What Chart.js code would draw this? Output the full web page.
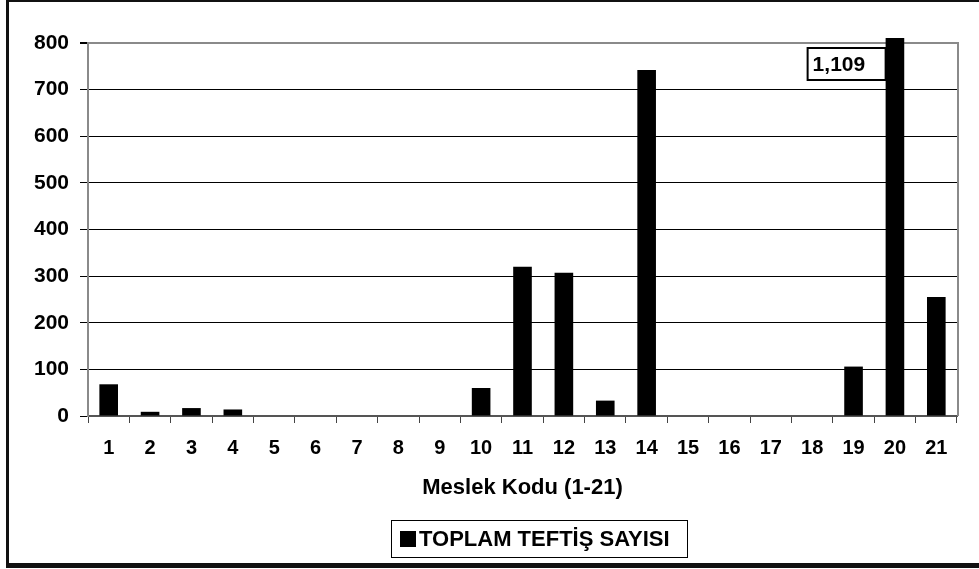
<!DOCTYPE html>
<html lang="tr">
<head>
<meta charset="UTF-8">
<title>Meslek Kodu - Toplam Teftiş Sayısı</title>
<script src="https://cdn.jsdelivr.net/npm/chart.js"></script>
<style>
  body { margin: 0; background: #fff; }
  #wrap { width: 979px; height: 569px; position: relative; }
</style>
</head>
<body>
<div id="wrap"><canvas id="chart"></canvas></div>
<script>
// data
const categories = ['1','2','3','4','5','6','7','8','9','10','11','12','13','14','15','16','17','18','19','20','21'];
const inspections = [68, 9, 17, 14, 0, 0, 0, 0, 0, 60, 320, 307, 33, 742, 0, 0, 0, 0, 106, 1109, 255];
const yTicks = [0, 100, 200, 300, 400, 500, 600, 700, 800];
const seriesName = 'TOPLAM TEFTİŞ SAYISI';
const axisTitle = 'Meslek Kodu (1-21)';
const yMax = 800;

const FONT = 'Liberation Sans, Arial, sans-serif';

// frame, plot border, the boxed label over the clipped bar, and the boxed legend
const extras = {
  id: 'extras',
  afterDatasetsDraw(chart) {
    const ctx = chart.ctx;
    const a = chart.chartArea;
    ctx.save();
    // right border of plot
    ctx.strokeStyle = '#8a8a8a';
    ctx.lineWidth = 2;
    ctx.beginPath();
    ctx.moveTo(a.right + 1, a.top - 1);
    ctx.lineTo(a.right + 1, a.bottom);
    ctx.stroke();

    // value label for bars above the axis max
    const meta = chart.getDatasetMeta(0);
    inspections.forEach((v, i) => {
      if (v <= yMax) return;
      const bar = meta.data[i];
      const txt = v.toLocaleString('en-US');
      ctx.font = 'bold 21px ' + FONT;
      const w = 78, h = 32;
      const x1 = bar.x - bar.width / 2;
      const y0 = a.top + 5;
      ctx.fillStyle = '#fff';
      ctx.fillRect(x1 - w, y0, w, h);
      ctx.strokeStyle = '#000';
      ctx.lineWidth = 2;
      ctx.strokeRect(x1 - w, y0, w, h);
      ctx.fillStyle = '#000';
      ctx.textBaseline = 'middle';
      ctx.textAlign = 'left';
      ctx.fillText(txt, x1 - w + 5, y0 + h / 2 + 1);
    });

    // legend box
    const lx = 391, ly = 520, lw = 296, lh = 37;
    ctx.strokeStyle = '#000';
    ctx.lineWidth = 1;
    ctx.strokeRect(lx + 0.5, ly + 0.5, lw, lh);
    ctx.fillStyle = '#000';
    ctx.fillRect(lx + 9, ly + 11, 16, 16);
    ctx.font = 'bold 22px ' + FONT;
    ctx.textBaseline = 'middle';
    ctx.textAlign = 'left';
    ctx.fillText(seriesName, lx + 28, ly + lh / 2 + 1);

    // outer frame
    ctx.fillStyle = '#111';
    ctx.fillRect(6, 0, 3, 568);
    ctx.fillRect(6, 0, 973, 2);
    ctx.fillRect(6, 563, 973, 5);
    ctx.restore();
  }
};

new Chart(document.getElementById('chart'), {
  type: 'bar',
  data: {
    labels: categories,
    datasets: [{
      label: seriesName,
      data: inspections,
      backgroundColor: '#000',
      borderWidth: 0,
      categoryPercentage: 1,
      barPercentage: 0.45,
      clip: { left: 0, top: 5, right: 0, bottom: 0 }
    }]
  },
  options: {
    responsive: true,
    maintainAspectRatio: false,
    animation: false,
    layout: { padding: { left: 0, top: 43, right: 22, bottom: 0 } },
    plugins: {
      legend: { display: false },
      tooltip: { enabled: false }
    },
    scales: {
      x: {
        grid: {
          display: true,
          drawOnChartArea: false,
          drawTicks: true,
          tickLength: 7,
          color: '#444',
          offset: true
        },
        border: { color: '#555', width: 2 },
        ticks: {
          color: '#000',
          font: { family: FONT, size: 20, weight: 'bold' },
          padding: 13,
          maxRotation: 0,
          autoSkip: false
        },
        title: {
          display: true,
          text: axisTitle,
          color: '#000',
          font: { family: FONT, size: 22, weight: 'bold' },
          padding: { top: 0, bottom: 68 }
        },
        afterFit(scale) { scale.height = 569 - 416; }
      },
      y: {
        min: 0,
        max: yMax,
        afterBuildTicks(scale) { scale.ticks = yTicks.map(v => ({ value: v })); },
        grid: {
          color: ctx => (ctx.tick && ctx.tick.value === yMax) ? '#8a8a8a' : '#000',
          lineWidth: ctx => (ctx.tick && ctx.tick.value === yMax) ? 2 : 1,
          tickColor: '#000',
          tickLength: 8
        },
        border: { color: '#8a8a8a', width: 2 },
        ticks: {
          color: '#000',
          font: { family: FONT, size: 21, weight: 'bold' },
          padding: 11
        },
        afterFit(scale) { scale.width = 88; }
      }
    }
  },
  plugins: [extras]
});
</script>
</body>
</html>
